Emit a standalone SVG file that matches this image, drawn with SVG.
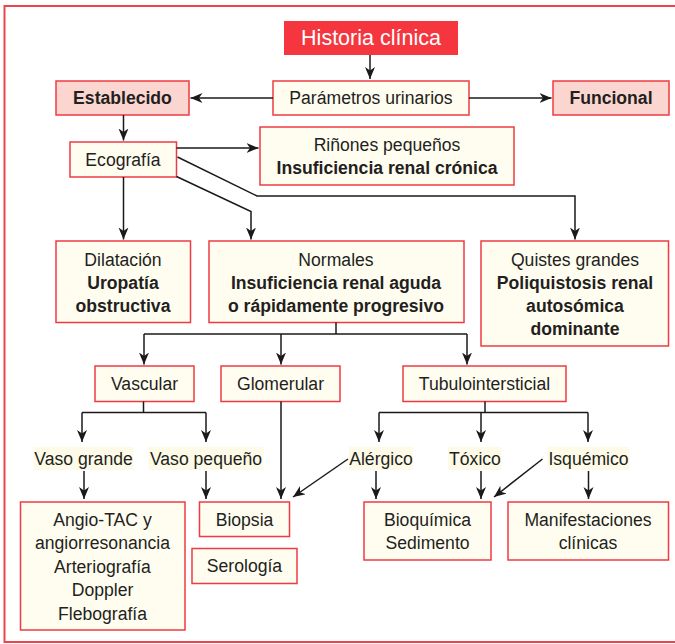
<svg xmlns="http://www.w3.org/2000/svg" width="675" height="644" viewBox="0 0 675 644">
<defs>
<marker id="ah" markerUnits="userSpaceOnUse" markerWidth="14" markerHeight="12" refX="12" refY="5" orient="auto">
<path d="M0,0 L12,5 L0,10 L3.5,5 Z" fill="#1a1a1a"/>
</marker>
</defs>
<style>
.box{fill:#fffdf0;stroke:#ee3b43;stroke-width:1.5}
.pink{fill:#fbd6d1;stroke:#ee3b43;stroke-width:1.5}
.lbl{fill:#fdfbe8}
text{font-family:"Liberation Sans",Arial,sans-serif;font-size:17.6px;fill:#231f20;text-anchor:middle;dominant-baseline:central}
.b{font-weight:bold}
.c line,.c polyline{stroke:#1a1a1a;stroke-width:1.5;fill:none}
</style>
<rect x="4.5" y="6" width="690" height="636" fill="#ffffff" stroke="#f0444c" stroke-width="2"/>

<g id="historia">
<rect x="284" y="21" width="174" height="34" fill="#f5363f"/>
<text x="371" y="38" style="fill:#ffffff;font-size:21.5px">Historia clínica</text>
</g>
<g id="establecido">
<rect class="pink" x="56" y="81" width="133" height="34"/>
<text class="b" x="122.5" y="98">Establecido</text>
</g>
<g id="parametros">
<rect class="box" x="273" y="81" width="196" height="34"/>
<text x="371" y="98">Parámetros urinarios</text>
</g>
<g id="funcional">
<rect class="pink" x="553" y="81" width="116" height="34"/>
<text class="b" x="611" y="98">Funcional</text>
</g>
<g id="ecografia">
<rect class="box" x="70" y="142" width="106.5" height="35"/>
<text x="123" y="159.5">Ecografía</text>
</g>
<g id="rinones">
<rect class="box" x="260" y="127" width="254" height="58"/>
<text x="387" y="145">Riñones pequeños</text>
<text class="b" x="387" y="168">Insuficiencia renal crónica</text>
</g>
<g id="dilatacion">
<rect class="box" x="56" y="241" width="134.5" height="81.5"/>
<text x="123" y="260">Dilatación</text>
<text class="b" x="123" y="283">Uropatía</text>
<text class="b" x="123" y="306">obstructiva</text>
</g>
<g id="normales">
<rect class="box" x="209" y="241" width="255" height="81.5"/>
<text x="336" y="260">Normales</text>
<text class="b" x="336" y="283">Insuficiencia renal aguda</text>
<text class="b" x="336" y="306">o rápidamente progresivo</text>
</g>
<g id="quistes">
<rect class="box" x="481" y="241" width="187.5" height="105"/>
<text x="575" y="260">Quistes grandes</text>
<text class="b" x="575" y="283">Poliquistosis renal</text>
<text class="b" x="575" y="306">autosómica</text>
<text class="b" x="575" y="329">dominante</text>
</g>
<g id="vascular">
<rect class="box" x="95" y="366" width="99" height="35.5"/>
<text x="144.5" y="384">Vascular</text>
</g>
<g id="glomerular">
<rect class="box" x="221" y="366" width="119" height="35.5"/>
<text x="280.5" y="384">Glomerular</text>
</g>
<g id="tubulo">
<rect class="box" x="403" y="366" width="163" height="35.5"/>
<text x="484.5" y="384">Tubulointersticial</text>
</g>
<g id="vasogrande">
<rect class="lbl" x="33.5" y="447" width="100" height="23"/>
<text x="83.5" y="458.5">Vaso grande</text>
</g>
<g id="vasopequeno">
<rect class="lbl" x="148.5" y="447" width="115" height="23"/>
<text x="206" y="458.5">Vaso pequeño</text>
</g>
<g id="alergico">
<rect class="lbl" x="349" y="447" width="64" height="23"/>
<text x="381" y="458.5">Alérgico</text>
</g>
<g id="toxico">
<rect class="lbl" x="448" y="447" width="53.5" height="23"/>
<text x="475" y="458.5">Tóxico</text>
</g>
<g id="isquemico">
<rect class="lbl" x="547.5" y="447" width="82" height="23"/>
<text x="588.5" y="458.5">Isquémico</text>
</g>
<g id="angio">
<rect class="box" x="20.5" y="502" width="164.5" height="128"/>
<text x="102.5" y="519.5">Angio-TAC y</text>
<text x="102.5" y="543">angiorresonancia</text>
<text x="102.5" y="566.5">Arteriografía</text>
<text x="102.5" y="590">Doppler</text>
<text x="102.5" y="613.5">Flebografía</text>
</g>
<g id="biopsia">
<rect class="box" x="199.5" y="502" width="90" height="34.5"/>
<text x="244.5" y="519.5">Biopsia</text>
</g>
<g id="serologia">
<rect class="box" x="192" y="548.5" width="105" height="35"/>
<text x="244.5" y="566">Serología</text>
</g>
<g id="bioquimica">
<rect class="box" x="364" y="502" width="127" height="58"/>
<text x="427.5" y="519.5">Bioquímica</text>
<text x="427.5" y="543">Sedimento</text>
</g>
<g id="manifestaciones">
<rect class="box" x="508" y="502" width="160.5" height="58"/>
<text x="588" y="519.5">Manifestaciones</text>
<text x="588" y="543">clínicas</text>
</g>

<g class="c" id="connectors">
<line x1="370" y1="55" x2="370" y2="79" marker-end="url(#ah)"/>
<line x1="273" y1="98" x2="190.5" y2="98" marker-end="url(#ah)"/>
<line x1="469" y1="98" x2="551.5" y2="98" marker-end="url(#ah)"/>
<line x1="123.5" y1="115" x2="123.5" y2="140.5" marker-end="url(#ah)"/>
<line x1="176.5" y1="148" x2="258.5" y2="148" marker-end="url(#ah)"/>
<line x1="123.5" y1="177" x2="123.5" y2="239.5" marker-end="url(#ah)"/>
<polyline points="176.5,176.5 251,211.5 251,239.5" marker-end="url(#ah)"/>
<polyline points="177.5,157 257,196 575,196 575,239.5" marker-end="url(#ah)"/>
<polyline points="336,322.5 336,334"/>
<line x1="144" y1="334" x2="467" y2="334"/>
<line x1="144" y1="334" x2="144" y2="364.5" marker-end="url(#ah)"/>
<line x1="281" y1="334" x2="281" y2="364.5" marker-end="url(#ah)"/>
<line x1="467" y1="334" x2="467" y2="364.5" marker-end="url(#ah)"/>
<line x1="143.5" y1="401.5" x2="143.5" y2="412.5"/>
<line x1="82" y1="412.5" x2="206" y2="412.5"/>
<line x1="82" y1="412.5" x2="82" y2="442" marker-end="url(#ah)"/>
<line x1="206" y1="412.5" x2="206" y2="442" marker-end="url(#ah)"/>
<line x1="485" y1="401.5" x2="485" y2="412.5"/>
<line x1="379" y1="412.5" x2="588" y2="412.5"/>
<line x1="379" y1="412.5" x2="379" y2="442" marker-end="url(#ah)"/>
<line x1="481" y1="412.5" x2="481" y2="442" marker-end="url(#ah)"/>
<line x1="588" y1="412.5" x2="588" y2="442" marker-end="url(#ah)"/>
<line x1="84" y1="471" x2="84" y2="499" marker-end="url(#ah)"/>
<line x1="206" y1="471" x2="206" y2="499" marker-end="url(#ah)"/>
<line x1="281" y1="401.5" x2="281" y2="499" marker-end="url(#ah)"/>
<line x1="348" y1="459" x2="293" y2="497" marker-end="url(#ah)"/>
<line x1="376" y1="471" x2="376" y2="499" marker-end="url(#ah)"/>
<line x1="481" y1="471" x2="481" y2="499" marker-end="url(#ah)"/>
<line x1="542.5" y1="459" x2="494" y2="497" marker-end="url(#ah)"/>
<line x1="588.5" y1="471" x2="588.5" y2="499" marker-end="url(#ah)"/>
</g>
</svg>
